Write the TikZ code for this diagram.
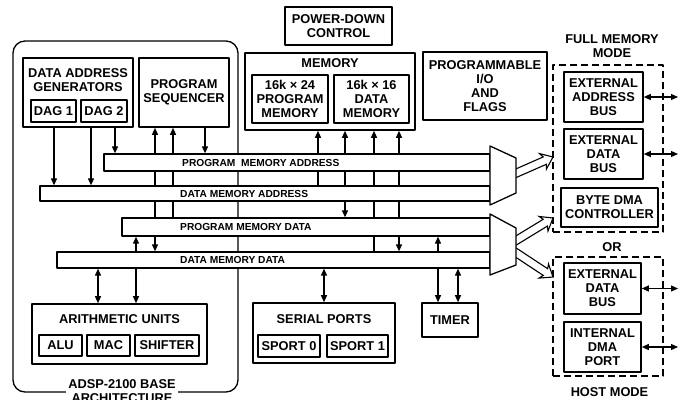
\documentclass[tikz,border=0pt]{standalone}
\usepackage{fontspec}
\setmainfont{Liberation Sans}
\usetikzlibrary{arrows.meta,backgrounds}

\tikzset{
	blk/.style={draw, line width=1.6pt, fill=white, align=center, inner sep=0pt,
		font=\bfseries\fontsize{12.8}{14}\selectfont},
	ttl/.style={align=center, inner sep=0pt, font=\bfseries\fontsize{12.8}{14}\selectfont},
	frame/.style={draw, line width=1.3pt, rounded corners=12pt, minimum width=225, minimum height=351},
	bus/.style={draw, line width=1.3pt, fill=white, inner sep=0pt},
	buslbl/.style={anchor=west, inner sep=0pt, font=\bfseries\fontsize{10.2}{12}\selectfont},
	modebox/.style={draw, line width=1.3pt, dash pattern=on 7pt off 4pt, minimum width=110},
	mux/.style={draw, fill=white, line width=1.3pt},
	wire/.style={line width=1.2pt},
	fat/.pic={
		\draw[line width=1.1pt, fill=white, line join=miter]
			(0pt,-4pt) -- ({#1pt-9pt},-4pt) -- ({#1pt-11pt},-8.5pt) -- (#1pt,0pt)
			-- ({#1pt-11pt},8.5pt) -- ({#1pt-9pt},4pt) -- (0pt,4pt);
	}
}

\begin{document}
\begin{tikzpicture}[
	x=1pt, y=-1pt,
	>={Stealth[inset=0pt,length=7pt,width=6pt]},
	line join=round
	]
	\useasboundingbox (0,0) rectangle (684,399);
	% base architecture
	\node[frame] (base) at (125.5,216.5) {};
	\node[ttl, fill=white, inner sep=2pt] (basetxt) at (122,391) {ADSP-2100 BASE\\ARCHITECTURE};
	\node[blk, minimum width=110, minimum height=69] (dag) at (78,92.5) {};
	\node[ttl] (dagtxt) at (78,80) {DATA ADDRESS\\GENERATORS};
	\node[blk, minimum width=45, minimum height=22] (dagone) at (53.5,111) {DAG 1};
	\node[blk, minimum width=46, minimum height=22] (dagtwo) at (104,111) {DAG 2};
	\node[blk, minimum width=90, minimum height=69] (seq) at (184,92.5) {PROGRAM\\SEQUENCER};
	\node[blk, minimum width=175, minimum height=60] (au) at (119.5,334) {};
	\node[ttl] (autxt) at (119.5,319) {ARITHMETIC UNITS};
	\node[blk, minimum width=43, minimum height=21] (alu) at (60.5,345.5) {ALU};
	\node[blk, minimum width=43, minimum height=21] (mac) at (108.5,345.5) {MAC};
	\node[blk, minimum width=64, minimum height=21] (shifter) at (167,345.5) {SHIFTER};
	% memory and peripherals
	\node[blk, minimum width=107, minimum height=38] (pwr) at (338.5,26) {POWER-DOWN\\CONTROL};
	\node[blk, minimum width=170, minimum height=77] (mem) at (330,91.5) {};
	\node[ttl] (memtxt) at (330,63) {MEMORY};
	\node[blk, minimum width=76, minimum height=48] (pmem) at (290,99) {16k × 24\\PROGRAM\\MEMORY};
	\node[blk, minimum width=75, minimum height=48] (dmem) at (371.5,99) {16k × 16\\DATA\\MEMORY};
	\node[blk, minimum width=124, minimum height=68] (pio) at (485,86) {PROGRAMMABLE\\I/O\\AND\\FLAGS};
	\node[blk, minimum width=142, minimum height=60] (sp) at (324,333) {};
	\node[ttl] (sptxt) at (324,319) {SERIAL PORTS};
	\node[blk, minimum width=62, minimum height=22] (sport0) at (289,346) {SPORT 0};
	\node[blk, minimum width=61, minimum height=22] (sport1) at (357.5,346) {SPORT 1};
	\node[blk, minimum width=56, minimum height=34] (timer) at (450,320) {TIMER};
	% buses
	\node[bus, minimum width=386, minimum height=17] (pma) at (297,162.5) {};
	\node[bus, minimum width=450, minimum height=15] (dma) at (265,193.5) {};
	\node[bus, minimum width=368, minimum height=18] (pmd) at (306,227) {};
	\node[bus, minimum width=433, minimum height=16] (dmd) at (273.5,260) {};
	\node[buslbl] (pmatxt) at (182,162.5) {PROGRAM\ \ MEMORY ADDRESS};
	\node[buslbl] (dmatxt) at (180,193.5) {DATA MEMORY ADDRESS};
	\node[buslbl] (pmdtxt) at (180,227) {PROGRAM MEMORY DATA};
	\node[buslbl] (dmdtxt) at (180,260) {DATA MEMORY DATA};
	% links to the buses
	\begin{scope}[on background layer]
		\foreach \x/\a/\b in {54/dag/dma, 91/dag/dma, 115/dag/pma, 205/seq/pma}
			\draw[wire,->] (\a.south -| \x,0) -- (\b.north -| \x,0);
		\foreach \x/\a/\b in {173/seq/pmd, 318/mem/dma, 374/mem/dmd}
			\draw[wire,<-] (\a.south -| \x,0) -- (\b.north -| \x,0);
		\foreach \x/\a/\b in {155/seq/dmd, 345/mem/pmd, 399/mem/dmd, 98/dmd/au, 136/pmd/au,
			324/dmd/sp, 438/pmd/timer, 458/dmd/timer}
			\draw[wire,<->] (\a.south -| \x,0) -- (\b.north -| \x,0);
	\end{scope}
	% external interface
	\node[modebox, minimum height=167] (full) at (608,148.5) {};
	\node[ttl] (fulltxt) at (612,46.5) {FULL MEMORY\\MODE};
	\node[blk, minimum width=79, minimum height=50] (extaddr) at (603.5,97) {EXTERNAL\\ADDRESS\\BUS};
	\node[blk, minimum width=79, minimum height=50] (extdata) at (603.5,154) {EXTERNAL\\DATA\\BUS};
	\node[blk, minimum width=97, minimum height=39] (bytedma) at (609.5,207.5) {BYTE DMA\\CONTROLLER};
	\node[ttl] (ortxt) at (612,247) {OR};
	\node[modebox, minimum height=119] (host) at (608,316.5) {};
	\node[ttl] (hosttxt) at (609.5,392) {HOST MODE};
	\node[blk, minimum width=77, minimum height=51] (hostdata) at (602.5,288.5) {EXTERNAL\\DATA\\BUS};
	\node[blk, minimum width=77, minimum height=50] (dmaport) at (602.5,347) {INTERNAL\\DMA\\PORT};
	\coordinate (rim) at (678,0);
	\foreach \n in {extaddr, extdata, hostdata, dmaport}
		\draw[wire,<->] (\n.east) -- (\n.east -| rim);
	% multiplexers
	\coordinate (mxa) at (512,175);
	\coordinate (mxb) at (512,243);
	\coordinate (mxc) at (512,250);
	\pic[rotate=23.7] at (mxa) {fat=44.8};
	\pic[rotate=31.4] at (mxb) {fat=48};
	\pic[rotate=-33.4] at (mxc) {fat=49.1};
	\draw[mux] (490,146) -- (516,158) -- (516,193) -- (490,205) -- cycle;
	\draw[mux] (490,214) -- (516,228) -- (516,265) -- (490,275) -- cycle;
\end{tikzpicture}
\end{document}
